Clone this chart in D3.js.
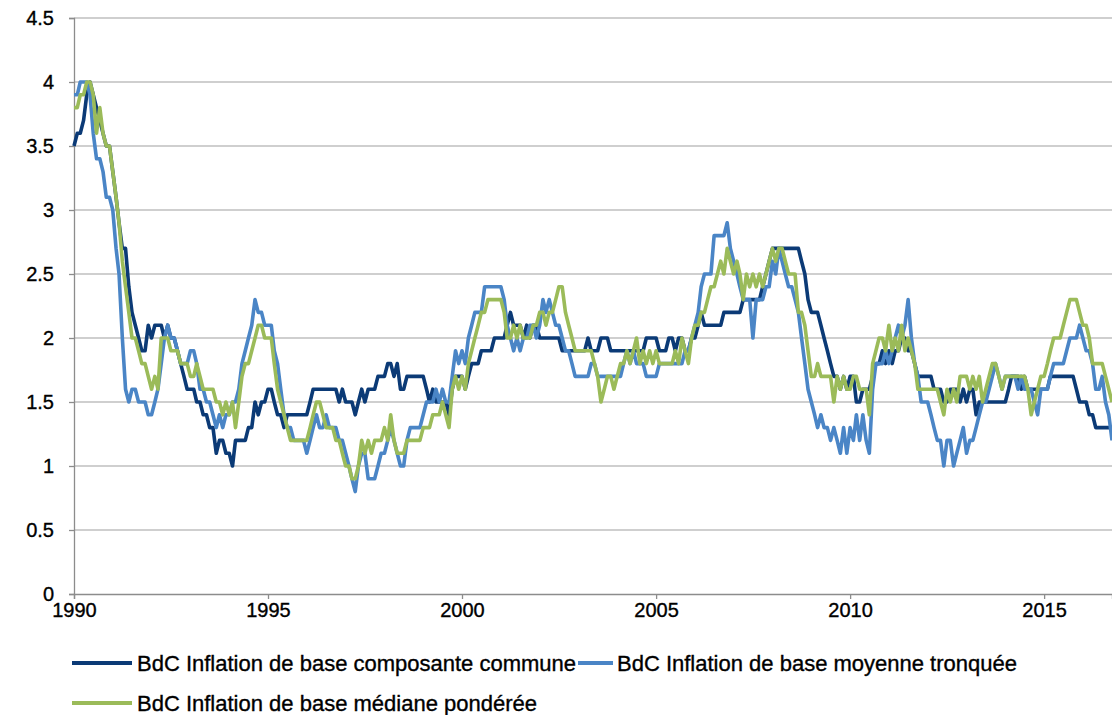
<!DOCTYPE html>
<html><head><meta charset="utf-8">
<script src="https://cdn.jsdelivr.net/npm/d3@7"></script>
<style>
body{margin:0;background:#fff}
text{font-family:"Liberation Sans",Arial,Helvetica,sans-serif;fill:#000}
</style>
</head><body>
<svg id="chart" width="1112" height="715"></svg>
<script>
// Monthly data, January 1990 to October 2016
const startYear = 1990;
const commune = [
3.5,3.6,3.6,3.7,3.9,4.0,3.9,3.8,3.7,3.6,3.5,3.5,
3.3,3.1,2.9,2.7,2.7,2.4,2.2,2.1,2.0,1.9,1.9,2.1,
2.0,2.1,2.1,2.1,2.0,2.1,2.0,2.0,1.9,1.8,1.7,1.6,
1.6,1.6,1.5,1.5,1.4,1.4,1.3,1.3,1.1,1.2,1.2,1.1,
1.1,1.0,1.2,1.2,1.2,1.2,1.3,1.3,1.5,1.4,1.5,1.5,
1.6,1.6,1.5,1.4,1.4,1.3,1.4,1.4,1.4,1.4,1.4,1.4,
1.4,1.5,1.6,1.6,1.6,1.6,1.6,1.6,1.6,1.6,1.5,1.6,
1.5,1.5,1.5,1.4,1.5,1.6,1.5,1.6,1.6,1.6,1.7,1.7,
1.7,1.8,1.8,1.7,1.8,1.6,1.6,1.7,1.7,1.7,1.7,1.7,
1.7,1.6,1.5,1.6,1.5,1.5,1.5,1.5,1.4,1.6,1.7,1.7,
1.7,1.6,1.7,1.8,1.8,1.8,1.9,1.9,1.9,1.9,2.0,2.0,
2.0,2.0,2.1,2.2,2.1,2.1,2.1,2.0,2.1,2.0,2.1,2.1,
2.0,2.0,2.0,2.0,2.0,2.0,2.0,1.9,1.9,1.9,1.9,1.9,
1.9,1.9,1.9,2.0,1.9,1.9,1.9,2.0,2.0,2.0,1.9,1.9,
1.9,1.9,1.9,1.9,1.9,1.9,1.9,1.9,1.9,2.0,2.0,2.0,
2.0,1.9,1.9,1.9,2.0,2.0,1.9,2.0,2.0,1.9,1.9,2.0,
2.0,2.1,2.2,2.1,2.1,2.1,2.1,2.1,2.1,2.2,2.2,2.2,
2.2,2.2,2.2,2.3,2.3,2.3,2.3,2.3,2.3,2.4,2.5,2.6,
2.7,2.7,2.7,2.7,2.7,2.7,2.7,2.7,2.7,2.6,2.5,2.3,
2.2,2.2,2.2,2.1,2.0,1.9,1.8,1.7,1.7,1.6,1.7,1.6,
1.7,1.7,1.5,1.5,1.6,1.6,1.6,1.7,1.8,1.8,1.9,1.8,
1.9,1.8,1.9,1.9,2.0,2.0,1.9,1.9,1.8,1.7,1.7,1.7,
1.7,1.7,1.6,1.6,1.6,1.5,1.5,1.6,1.6,1.6,1.5,1.6,
1.5,1.6,1.6,1.4,1.5,1.5,1.5,1.5,1.5,1.5,1.5,1.5,
1.5,1.6,1.7,1.7,1.7,1.6,1.7,1.6,1.6,1.6,1.6,1.6,
1.6,1.6,1.7,1.7,1.7,1.7,1.7,1.7,1.7,1.7,1.6,1.5,
1.5,1.5,1.4,1.4,1.3,1.3,1.3,1.3,1.3,1.3
];
const tronquee = [
3.9,3.9,4.0,4.0,4.0,3.9,3.6,3.4,3.4,3.3,3.1,3.1,
3.0,2.7,2.5,2.0,1.6,1.5,1.6,1.6,1.5,1.5,1.5,1.4,
1.4,1.5,1.6,1.8,2.0,2.1,2.0,2.0,1.9,1.8,1.8,1.8,
1.9,1.9,1.8,1.6,1.6,1.5,1.5,1.4,1.3,1.4,1.3,1.4,
1.4,1.5,1.5,1.6,1.8,1.9,2.0,2.1,2.3,2.2,2.2,2.1,
2.1,2.1,1.9,1.8,1.6,1.4,1.3,1.3,1.2,1.2,1.2,1.2,
1.1,1.2,1.3,1.4,1.3,1.3,1.4,1.3,1.3,1.3,1.2,1.2,
1.1,1.0,0.9,0.8,1.0,1.1,1.1,0.9,0.9,0.9,1.0,1.1,
1.1,1.2,1.3,1.2,1.1,1.0,1.0,1.2,1.3,1.3,1.3,1.3,
1.4,1.5,1.5,1.5,1.6,1.5,1.6,1.5,1.5,1.7,1.9,1.8,
1.9,1.8,2.0,2.1,2.2,2.2,2.2,2.4,2.4,2.4,2.4,2.4,
2.4,2.3,2.1,2.0,1.9,2.0,1.9,2.0,2.0,2.1,2.1,2.0,
2.1,2.3,2.2,2.3,2.2,2.1,2.1,2.0,1.9,1.9,1.8,1.7,
1.7,1.7,1.7,1.7,1.8,1.8,1.7,1.7,1.7,1.7,1.7,1.7,
1.7,1.7,1.8,1.9,1.8,1.9,1.8,1.8,1.8,1.7,1.7,1.7,
1.7,1.8,1.8,1.8,1.8,1.8,1.8,1.8,1.8,1.9,1.9,2.0,
2.1,2.2,2.4,2.5,2.5,2.5,2.8,2.8,2.8,2.8,2.9,2.7,
2.6,2.5,2.4,2.3,2.3,2.3,2.0,2.3,2.3,2.3,2.4,2.4,
2.6,2.5,2.7,2.6,2.5,2.4,2.4,2.3,2.2,2.0,1.8,1.6,
1.5,1.4,1.3,1.4,1.3,1.3,1.2,1.3,1.2,1.1,1.3,1.1,
1.3,1.2,1.4,1.2,1.4,1.2,1.1,1.6,1.8,1.8,1.8,1.9,
1.8,1.9,2.0,2.1,2.0,2.1,2.3,2.0,1.8,1.7,1.5,1.5,
1.5,1.4,1.3,1.2,1.2,1.0,1.2,1.2,1.0,1.1,1.2,1.3,
1.1,1.2,1.2,1.3,1.4,1.5,1.5,1.6,1.7,1.8,1.7,1.6,
1.7,1.7,1.7,1.7,1.6,1.7,1.6,1.6,1.6,1.5,1.4,1.6,
1.6,1.6,1.7,1.8,1.8,1.8,1.8,1.9,2.0,2.0,2.0,2.1,
2.0,1.9,1.9,1.8,1.6,1.6,1.7,1.5,1.4,1.2
];
const mediane = [
3.8,3.8,3.9,3.9,4.0,4.0,3.9,3.6,3.8,3.6,3.5,3.5,
3.3,3.1,2.9,2.6,2.4,2.2,2.0,2.0,1.9,1.8,1.8,1.7,
1.6,1.7,1.6,2.0,2.0,2.0,1.9,1.9,1.9,1.8,1.8,1.8,
1.7,1.7,1.8,1.7,1.6,1.6,1.6,1.6,1.5,1.5,1.4,1.5,
1.4,1.5,1.3,1.5,1.7,1.8,1.8,1.9,2.0,2.1,2.1,2.0,
2.0,2.0,1.8,1.6,1.5,1.4,1.3,1.2,1.2,1.2,1.2,1.2,
1.2,1.3,1.4,1.5,1.5,1.4,1.3,1.3,1.3,1.2,1.2,1.1,
1.0,1.0,0.9,0.9,1.0,1.2,1.1,1.2,1.1,1.2,1.2,1.2,
1.3,1.2,1.4,1.2,1.1,1.1,1.1,1.2,1.2,1.2,1.2,1.2,
1.3,1.3,1.3,1.4,1.4,1.4,1.5,1.4,1.3,1.6,1.7,1.6,
1.7,1.6,1.8,1.9,2.0,2.1,2.2,2.2,2.3,2.3,2.3,2.3,
2.3,2.2,2.0,2.0,2.1,2.0,2.1,2.0,2.0,2.0,2.1,2.1,
2.2,2.2,2.1,2.2,2.2,2.3,2.4,2.4,2.2,2.1,2.0,1.9,
1.9,1.9,1.9,1.9,1.9,1.8,1.7,1.5,1.6,1.7,1.7,1.6,
1.7,1.8,1.8,1.9,1.8,1.9,2.0,1.8,1.9,1.8,1.9,1.8,
1.9,1.8,1.8,1.8,1.8,1.8,1.9,1.8,2.0,1.9,1.8,2.0,
2.1,2.1,2.2,2.2,2.3,2.4,2.4,2.5,2.6,2.5,2.7,2.6,
2.5,2.6,2.5,2.3,2.5,2.4,2.5,2.4,2.5,2.4,2.5,2.6,
2.7,2.6,2.7,2.7,2.6,2.5,2.5,2.5,2.2,2.2,2.1,1.9,
1.7,1.7,1.8,1.7,1.7,1.7,1.7,1.5,1.7,1.6,1.7,1.6,
1.6,1.7,1.7,1.6,1.6,1.6,1.4,1.8,1.9,2.0,2.0,1.9,
2.1,1.9,2.0,1.9,2.1,1.9,2.0,1.9,1.8,1.6,1.6,1.6,
1.6,1.6,1.6,1.6,1.5,1.4,1.6,1.5,1.6,1.5,1.7,1.7,
1.7,1.6,1.7,1.6,1.7,1.5,1.6,1.7,1.8,1.8,1.7,1.6,
1.7,1.7,1.7,1.7,1.7,1.7,1.7,1.6,1.4,1.5,1.6,1.7,
1.7,1.8,1.9,2.0,2.0,2.0,2.1,2.2,2.3,2.3,2.3,2.2,
2.1,2.1,2.0,1.8,1.8,1.8,1.8,1.7,1.6,1.5
];
const yTickValues = [0, 0.5, 1, 1.5, 2, 2.5, 3, 3.5, 4, 4.5];
const xTickYears = [1990, 1995, 2000, 2005, 2010, 2015];
const seriesNames = [
  "BdC Inflation de base composante commune",
  "BdC Inflation de base moyenne tronquée",
  "BdC Inflation de base médiane pondérée"
];
const seriesColors = ["#0B3A76", "#4A85C6", "#9BBB59"];

(function draw() {
  const svg = d3.select("#chart");
  svg.append("rect").attr("width",1112).attr("height",715).attr("fill","#fff");

  const pLeft = 74, pRight = 1112, pTop = 18, pBottom = 594;
  const dateOf = i => new Date(startYear, i, 1);
  const x = d3.scaleTime()
    .domain([dateOf(0), dateOf(commune.length - 1)])
    .range([pLeft, pRight]);
  const y = d3.scaleLinear().domain([0, 4.5]).range([pBottom, pTop]);

  // gridlines
  svg.append("g").selectAll("line").data(yTickValues.filter(v => v > 0)).join("line")
    .attr("x1", pLeft).attr("x2", pRight)
    .attr("y1", d => y(d)).attr("y2", d => y(d))
    .attr("stroke", "#BFBFBF").attr("stroke-width", 1.3);

  const styleText = sel => sel.style("font-size", "20px")
    .style("font-family", '"Liberation Sans",Arial,sans-serif')
    .attr("fill", "#000").attr("stroke", "#000").attr("stroke-width", 0.35);

  // y axis
  const yAxis = d3.axisLeft(y).tickValues(yTickValues).tickSize(5).tickPadding(15)
    .tickFormat(d => String(d));
  const gy = svg.append("g").attr("transform", `translate(${pLeft},0)`).call(yAxis);
  gy.select(".domain").attr("stroke", "#8C8C8C").attr("stroke-width", 1.3);
  gy.selectAll(".tick line").attr("stroke", "#8C8C8C").attr("stroke-width", 1.3);
  styleText(gy.selectAll("text"));

  // x axis
  const xAxis = d3.axisBottom(x)
    .tickValues(xTickYears.map(yr => new Date(yr, 0, 1)))
    .tickSize(5).tickPadding(4)
    .tickFormat(d3.timeFormat("%Y"));
  const gx = svg.append("g").attr("transform", `translate(0,${pBottom})`).call(xAxis);
  gx.select(".domain").attr("stroke", "#8C8C8C").attr("stroke-width", 1.3);
  gx.selectAll(".tick line").attr("stroke", "#8C8C8C").attr("stroke-width", 1.3);
  styleText(gx.selectAll("text"));

  // lines
  const allSeries = [commune, tronquee, mediane];
  const line = d3.line().x((d, i) => x(dateOf(i))).y(d => y(d));
  allSeries.forEach((s, k) => {
    svg.append("path").datum(s)
      .attr("d", line)
      .attr("fill", "none")
      .attr("stroke", seriesColors[k])
      .attr("stroke-width", 3.6)
      .attr("stroke-linejoin", "round");
  });

  // legend
  const legendLines = [[72, 132, 663], [578, 613, 663], [72, 132, 703]];
  const legendText = [[137, 663], [617, 663], [137, 703]];
  const lg = svg.append("g");
  seriesNames.forEach((name, k) => {
    const [x1, x2, ly] = legendLines[k];
    lg.append("line").attr("x1", x1).attr("x2", x2).attr("y1", ly).attr("y2", ly)
      .attr("stroke", seriesColors[k]).attr("stroke-width", 4);
    const [tx, ty] = legendText[k];
    lg.append("text").attr("x", tx).attr("y", ty + 8)
      .style("font-size", "22px")
      .attr("stroke", "#000").attr("stroke-width", 0.35)
      .text(name);
  });
})();
</script>
</body></html>
